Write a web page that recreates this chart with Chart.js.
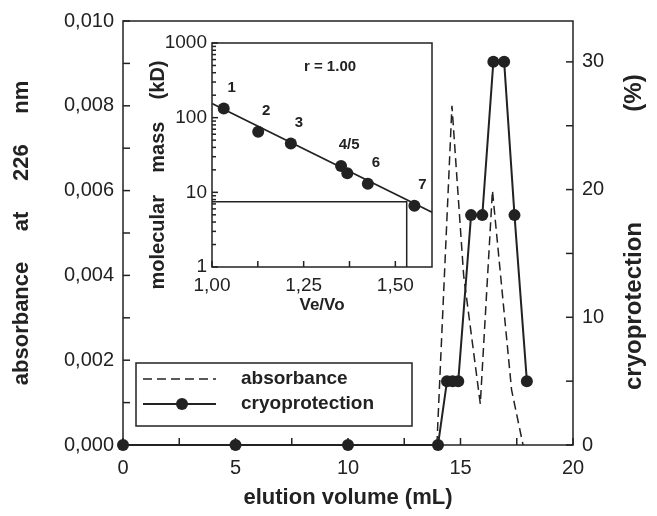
<!DOCTYPE html>
<html>
<head>
<meta charset="utf-8">
<script src="https://cdn.jsdelivr.net/npm/chart.js@4.4.0/dist/chart.umd.min.js"></script>
<style>
  body { margin: 0; background: #fff; }
  #wrap { position: relative; width: 657px; height: 516px; }
  #main { position: absolute; left: 0; top: 0; }
  #inset { position: absolute; left: 130px; top: 25px; }
</style>
</head>
<body>
<div id="wrap">
  <canvas id="main" width="657" height="516"></canvas>
  <canvas id="inset" width="320" height="300"></canvas>
</div>
<script>
// elution profile (main plot)
const cryoVolume = [0, 5, 10, 14, 14.4, 14.65, 14.9, 15.47, 15.97, 16.46, 16.94, 17.4, 17.95];
const cryoValue  = [0, 0, 0, 0, 5, 5, 5, 18, 18, 30, 30, 18, 5];
const absVolume  = [13.95, 14.62, 15.14, 15.88, 16.42, 17.27, 17.78];
const absValue   = [0, 0.0080, 0.0040, 0.00097, 0.0060, 0.0013, 0];

const volumeTicks = [0, 2.5, 5, 7.5, 10, 12.5, 15, 17.5, 20];
const absTicks = [0, 0.001, 0.002, 0.003, 0.004, 0.005, 0.006, 0.007, 0.008, 0.009, 0.010];
const cryoTicks = [0, 5, 10, 15, 20, 25, 30];

// calibration (inset)
const stdNames = ['1', '2', '3', '4/5', '', '6', '7'];
const stdVeVo  = [1.032, 1.126, 1.215, 1.352, 1.369, 1.425, 1.552];
const stdMass  = [133, 65, 45, 22.6, 18, 13, 6.6];
const fitVeVo  = [1.0, 1.6];
const fitMass  = [155, 5.4];
const readVeVo = [1.0, 1.531, 1.531];
const readMass = [7.5, 7.5, 1];
const veVoTicks = [1.0, 1.125, 1.25, 1.375, 1.5];
const massTicks = [1, 10, 100, 1000];

const ink = '#222';
const FONT = '"Liberation Sans", Arial, sans-serif';

function xy(xs, ys) {
  return xs.map((x, i) => ({ x: x, y: ys[i] }));
}

// frame + ticks pointing into the plot
const frameTicks = {
  id: 'frameTicks',
  beforeDraw(chart, args, opts) {
    const a = chart.chartArea, ctx = chart.ctx;
    if (opts.fill) {
      ctx.save();
      ctx.fillStyle = '#fff';
      ctx.fillRect(a.left, a.top, a.right - a.left, a.bottom - a.top);
      ctx.restore();
    }
  },
  beforeDatasetsDraw(chart, args, opts) {
    const a = chart.chartArea, ctx = chart.ctx;
    ctx.save();
    ctx.strokeStyle = ink;
    ctx.lineWidth = 1.5;
    ctx.strokeRect(a.left, a.top, a.right - a.left, a.bottom - a.top);
    Object.values(chart.scales).forEach(s => {
      const pos = s.options.position;
      const mark = (v, len) => {
        const p = s.getPixelForValue(v);
        ctx.beginPath();
        if (pos === 'left') { ctx.moveTo(a.left, p); ctx.lineTo(a.left + len, p); }
        else if (pos === 'right') { ctx.moveTo(a.right, p); ctx.lineTo(a.right - len, p); }
        else { ctx.moveTo(p, a.bottom); ctx.lineTo(p, a.bottom - len); }
        ctx.stroke();
      };
      s.ticks.forEach(t => mark(t.value, opts.len));
      if (s.type === 'logarithmic') {
        for (let d = s.min; d < s.max; d *= 10) {
          for (let k = 2; k < 10; k++) mark(k * d, opts.minorLen);
        }
      }
    });
    ctx.restore();
  }
};

const mainExtras = {
  id: 'mainExtras',
  afterDraw(chart) {
    const a = chart.chartArea, ctx = chart.ctx;
    ctx.save();
    // right axis title
    ctx.fillStyle = ink;
    ctx.font = 'bold 24px ' + FONT;
    ctx.textAlign = 'center';
    ctx.textBaseline = 'middle';
    ctx.translate(634, 0);
    ctx.rotate(-Math.PI / 2);
    ctx.fillText('cryoprotection', -306, 0);
    ctx.fillText('(%)', -93, 0);
    ctx.restore();

    // legend
    ctx.save();
    const lx = a.left + 13, ly = a.bottom - 82, lw = 276, lh = 63;
    ctx.fillStyle = '#fff';
    ctx.fillRect(lx, ly, lw, lh);
    ctx.strokeStyle = ink;
    ctx.lineWidth = 1.5;
    ctx.strokeRect(lx, ly, lw, lh);
    const r1 = ly + 16, r2 = ly + 41;
    ctx.lineWidth = 1.5;
    ctx.setLineDash([9, 5]);
    ctx.beginPath(); ctx.moveTo(lx + 7, r1); ctx.lineTo(lx + 80, r1); ctx.stroke();
    ctx.setLineDash([]);
    ctx.lineWidth = 2;
    ctx.beginPath(); ctx.moveTo(lx + 7, r2); ctx.lineTo(lx + 80, r2); ctx.stroke();
    ctx.fillStyle = ink;
    ctx.beginPath(); ctx.arc(lx + 46, r2, 6, 0, Math.PI * 2); ctx.fill();
    ctx.font = 'bold 19px ' + FONT;
    ctx.textBaseline = 'middle';
    ctx.fillText('absorbance', lx + 105, r1);
    ctx.fillText('cryoprotection', lx + 105, r2);
    ctx.restore();
  }
};

const insetExtras = {
  id: 'insetExtras',
  afterDraw(chart) {
    const a = chart.chartArea, ctx = chart.ctx;
    const xs = chart.scales.x, ys = chart.scales.y;
    ctx.save();
    ctx.fillStyle = ink;
    ctx.font = 'bold 15px ' + FONT;
    ctx.textAlign = 'center';
    ctx.textBaseline = 'middle';
    stdNames.forEach((n, i) => {
      if (!n) return;
      ctx.fillText(n, xs.getPixelForValue(stdVeVo[i]) + 8, ys.getPixelForValue(stdMass[i]) - 21);
    });
    ctx.fillText('r = 1.00', a.left + 118, a.top + 24);
    // y title
    ctx.font = 'bold 20px ' + FONT;
    ctx.translate(28, 0);
    ctx.rotate(-Math.PI / 2);
    ctx.fillText('molecular    mass    (kD)', -150, 0);
    ctx.restore();
  }
};

const tickFont = { family: FONT, size: 20 };

new Chart(document.getElementById('main'), {
  type: 'line',
  data: {
    datasets: [{
      label: 'absorbance',
      data: xy(absVolume, absValue),
      yAxisID: 'yAbs',
      borderColor: ink,
      borderWidth: 1.5,
      borderDash: [9, 5],
      pointRadius: 0,
      tension: 0,
      clip: false
    }, {
      label: 'cryoprotection',
      data: xy(cryoVolume, cryoValue),
      yAxisID: 'yCryo',
      borderColor: ink,
      backgroundColor: ink,
      borderWidth: 2,
      pointRadius: 6,
      pointBackgroundColor: ink,
      pointBorderWidth: 0,
      tension: 0,
      clip: false
    }]
  },
  options: {
    responsive: false,
    animation: false,
    layout: { padding: { top: 15, left: 0, right: 0, bottom: 0 } },
    plugins: {
      legend: { display: false },
      tooltip: { enabled: false },
      frameTicks: { len: 7 }
    },
    scales: {
      x: {
        type: 'linear', position: 'bottom', min: 0, max: 20,
        afterBuildTicks: s => { s.ticks = volumeTicks.map(v => ({ value: v })); },
        afterFit: s => { s.height = 71; },
        grid: { display: false, drawTicks: false },
        border: { display: false },
        ticks: {
          font: tickFont, color: ink, padding: 11, maxRotation: 0,
          callback: v => (v % 5 === 0 ? String(v) : '')
        },
        title: {
          display: true, text: 'elution volume (mL)', color: ink,
          font: { family: FONT, size: 22, weight: 'bold' },
          padding: { top: 0, bottom: 5 }
        }
      },
      yAbs: {
        type: 'linear', position: 'left', min: 0, max: 0.010,
        afterBuildTicks: s => { s.ticks = absTicks.map(v => ({ value: v })); },
        afterFit: s => { s.width = 123; },
        grid: { display: false, drawTicks: false },
        border: { display: false },
        ticks: {
          font: tickFont, color: ink, padding: 9,
          callback: v => (Math.round(v * 1000) % 2 === 0 ? v.toFixed(3).replace('.', ',') : '')
        },
        title: {
          display: true, text: 'absorbance     at     226     nm', color: ink,
          font: { family: FONT, size: 22, weight: 'bold' },
          padding: { top: 9, bottom: 0 }
        }
      },
      yCryo: {
        type: 'linear', position: 'right', min: 0, max: 33.2,
        afterBuildTicks: s => { s.ticks = cryoTicks.map(v => ({ value: v })); },
        afterFit: s => { s.width = 84; },
        grid: { display: false, drawTicks: false },
        border: { display: false },
        ticks: {
          font: tickFont, color: ink, padding: 9,
          callback: v => (v % 10 === 0 ? String(v) : '')
        }
      }
    }
  },
  plugins: [frameTicks, mainExtras]
});

new Chart(document.getElementById('inset'), {
  type: 'line',
  data: {
    datasets: [{
      data: xy(fitVeVo, fitMass),
      borderColor: ink, borderWidth: 1.8, pointRadius: 0, clip: false
    }, {
      data: xy(readVeVo, readMass),
      borderColor: ink, borderWidth: 1.5, pointRadius: 0
    }, {
      data: xy(stdVeVo, stdMass),
      showLine: false,
      pointRadius: 6, pointBorderWidth: 0,
      pointBackgroundColor: ink, clip: false
    }]
  },
  options: {
    responsive: false,
    animation: false,
    layout: { padding: { top: 18, right: 18, left: 0, bottom: 0 } },
    plugins: {
      legend: { display: false },
      tooltip: { enabled: false },
      frameTicks: { len: 6, minorLen: 4, fill: true }
    },
    scales: {
      x: {
        type: 'linear', position: 'bottom', min: 1.0, max: 1.6,
        afterBuildTicks: s => { s.ticks = veVoTicks.map(v => ({ value: v })); },
        afterFit: s => { s.height = 58; },
        grid: { display: false, drawTicks: false },
        border: { display: false },
        ticks: {
          font: { family: FONT, size: 19 }, color: ink, padding: 7, maxRotation: 0,
          callback: v => (Math.round(v * 100) % 25 === 0 ? v.toFixed(2).replace('.', ',') : '')
        },
        title: {
          display: true, text: 'Ve/Vo', color: ink,
          font: { family: FONT, size: 17, weight: 'bold' },
          padding: { top: 0, bottom: 9 }
        }
      },
      y: {
        type: 'logarithmic', position: 'left', min: 1, max: 1000,
        afterBuildTicks: s => { s.ticks = massTicks.map(v => ({ value: v })); },
        afterFit: s => { s.width = 82; },
        grid: { display: false, drawTicks: false },
        border: { display: false },
        ticks: {
          font: { family: FONT, size: 19 }, color: ink, padding: 5,
          callback: v => String(v)
        }
      }
    }
  },
  plugins: [frameTicks, insetExtras]
});
</script>
</body>
</html>
